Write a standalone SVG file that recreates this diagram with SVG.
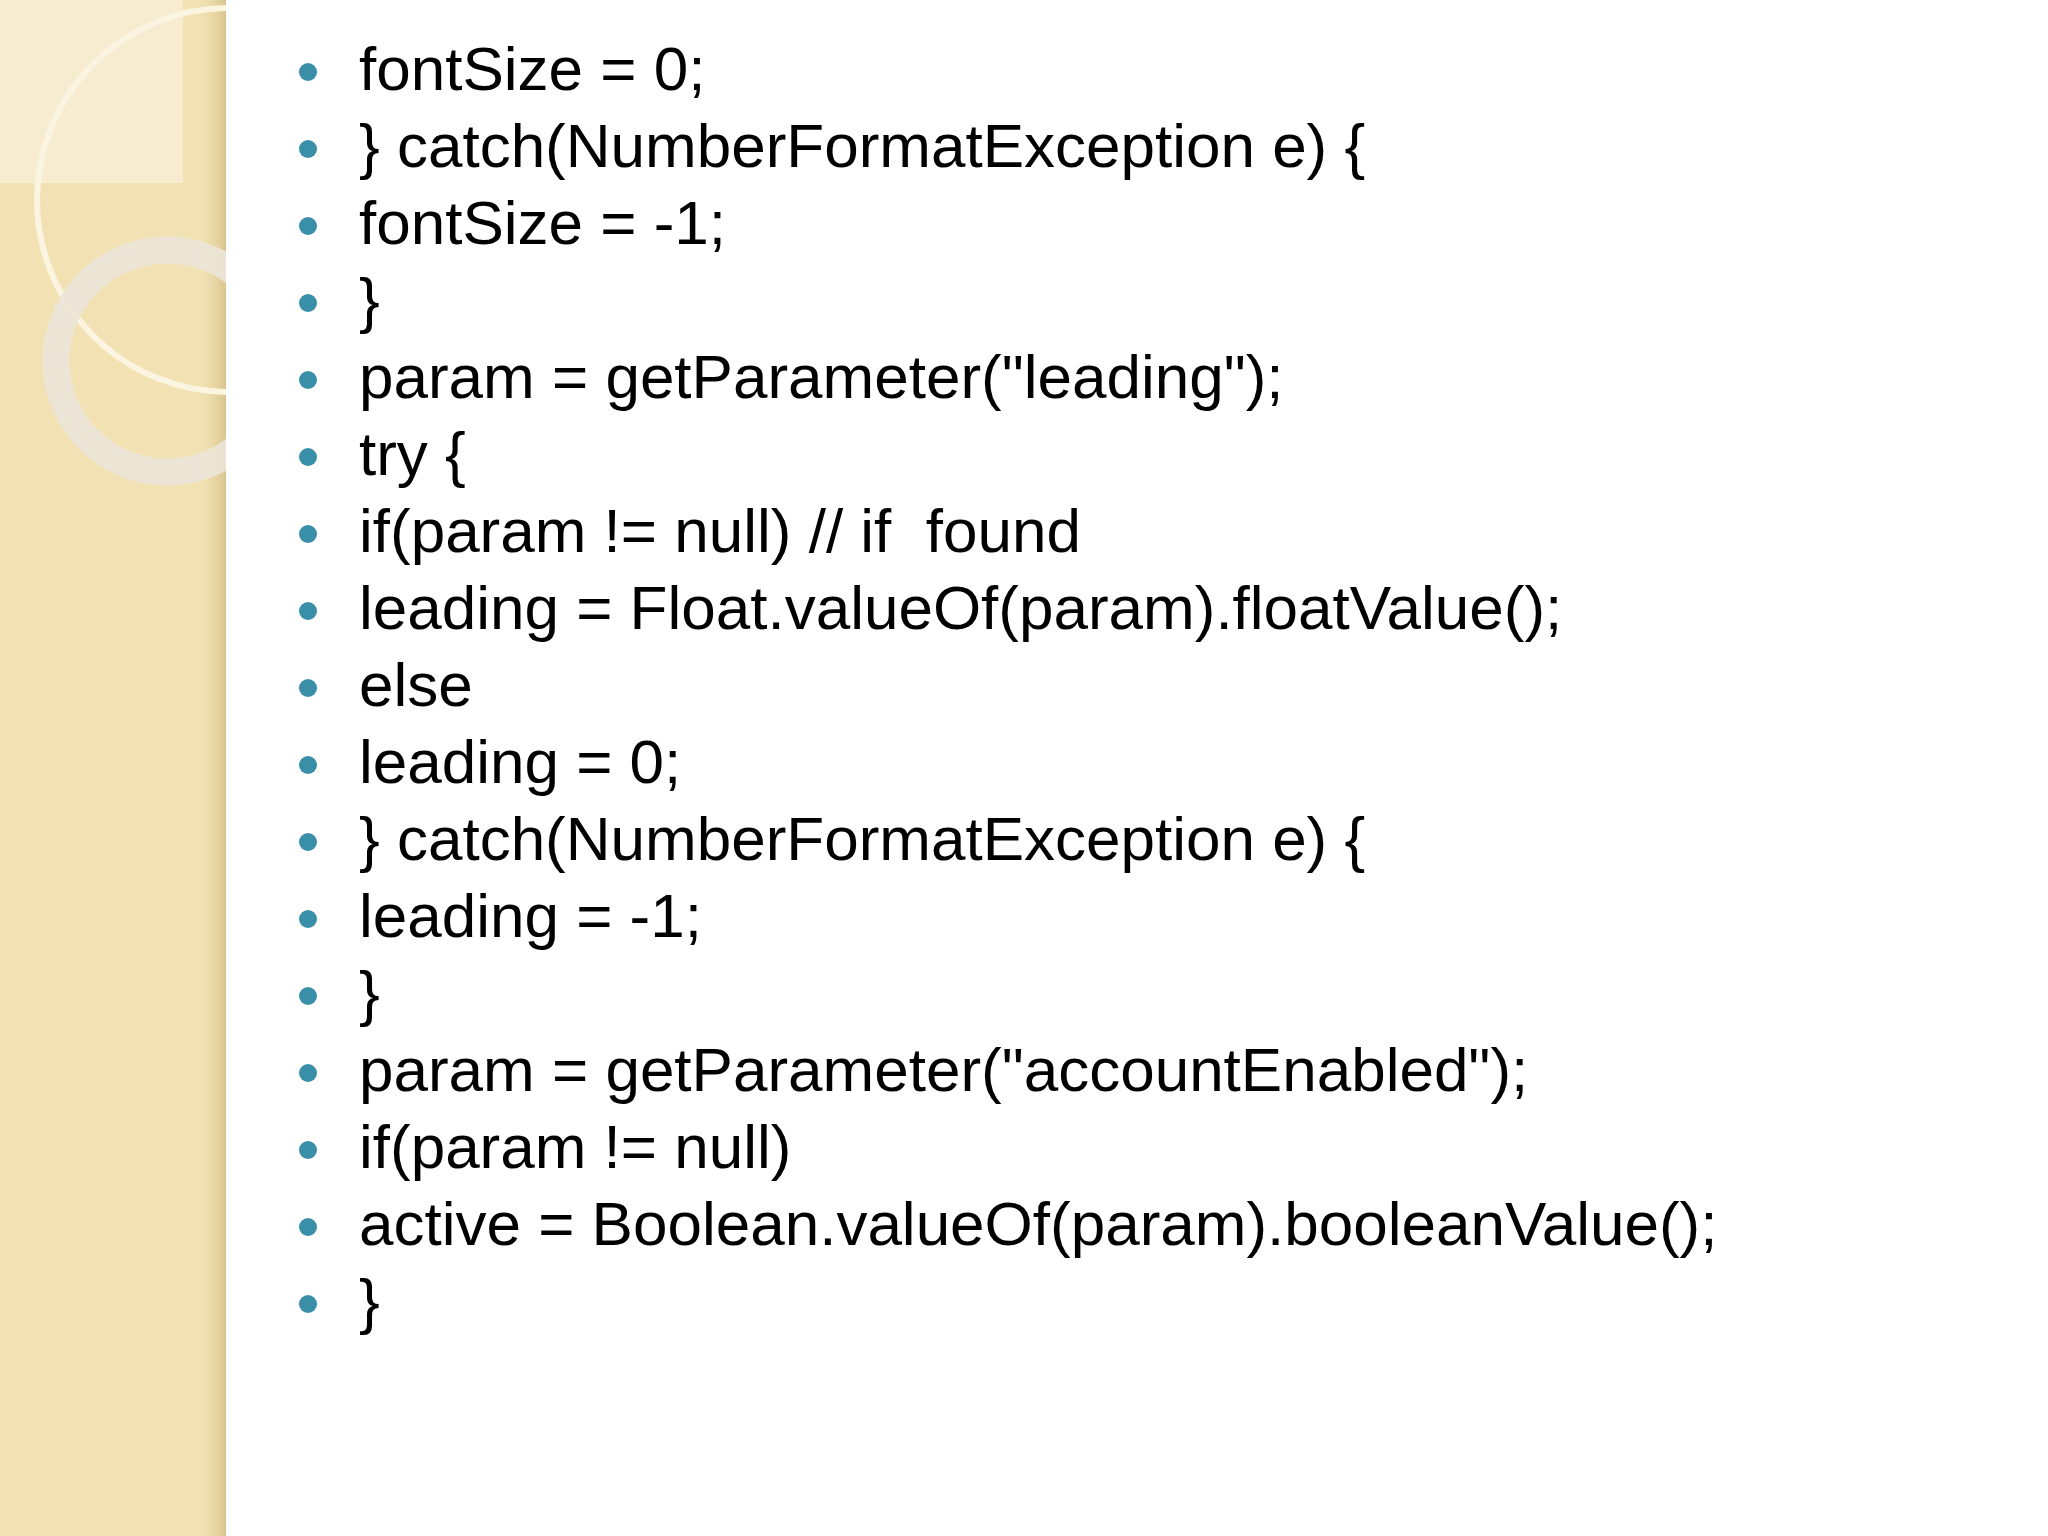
<svg xmlns="http://www.w3.org/2000/svg" width="2048" height="1536" viewBox="0 0 2048 1536">
<defs>
<clipPath id="panel"><rect x="0" y="0" width="226" height="1536"/></clipPath>
<linearGradient id="edge" x1="0" x2="1"><stop offset="0" stop-color="#e8d6a4" stop-opacity="0"/><stop offset="1" stop-color="#d9c48e"/></linearGradient>
</defs>
<style>
.t{font-family:"Liberation Sans",Arial,sans-serif;font-size:62px;fill:#000}
.b{fill:#3a8fa8}
</style>
<rect width="2048" height="1536" fill="#fff"/>
<g id="panel-bg" clip-path="url(#panel)">
<rect x="0" y="0" width="226" height="1536" fill="#f2e2b3"/>
<rect x="0" y="0" width="183" height="183" fill="#f7ecd0"/>
<rect x="200" y="0" width="26" height="1536" fill="url(#edge)"/>
<circle cx="229" cy="200" r="192" fill="none" stroke="#fbf4e0" stroke-width="6"/>
<circle cx="167" cy="361" r="111" fill="none" stroke="#ebe6d8" stroke-width="27" opacity="0.9"/>
</g>
<g id="content">
<g class="b">
<circle cx="308" cy="72" r="9"/><circle cx="308" cy="149" r="9"/><circle cx="308" cy="226" r="9"/><circle cx="308" cy="303" r="9"/><circle cx="308" cy="380" r="9"/><circle cx="308" cy="457" r="9"/><circle cx="308" cy="534" r="9"/><circle cx="308" cy="611" r="9"/><circle cx="308" cy="688" r="9"/><circle cx="308" cy="765" r="9"/><circle cx="308" cy="842" r="9"/><circle cx="308" cy="919" r="9"/><circle cx="308" cy="996" r="9"/><circle cx="308" cy="1073" r="9"/><circle cx="308" cy="1150" r="9"/><circle cx="308" cy="1227" r="9"/><circle cx="308" cy="1304" r="9"/>
</g>
<text class="t" x="359" y="90">fontSize = 0;</text>
<text class="t" x="359" y="167">} catch(NumberFormatException e) {</text>
<text class="t" x="359" y="244">fontSize = -1;</text>
<text class="t" x="359" y="321">}</text>
<text class="t" x="359" y="398">param = getParameter("leading");</text>
<text class="t" x="359" y="475">try {</text>
<text class="t" x="359" y="552" xml:space="preserve">if(param != null) // if  found</text>
<text class="t" x="359" y="629">leading = Float.valueOf(param).floatValue();</text>
<text class="t" x="359" y="706">else</text>
<text class="t" x="359" y="783">leading = 0;</text>
<text class="t" x="359" y="860">} catch(NumberFormatException e) {</text>
<text class="t" x="359" y="937">leading = -1;</text>
<text class="t" x="359" y="1014">}</text>
<text class="t" x="359" y="1091">param = getParameter("accountEnabled");</text>
<text class="t" x="359" y="1168">if(param != null)</text>
<text class="t" x="359" y="1245">active = Boolean.valueOf(param).booleanValue();</text>
<text class="t" x="359" y="1322">}</text>
</g>
</svg>
